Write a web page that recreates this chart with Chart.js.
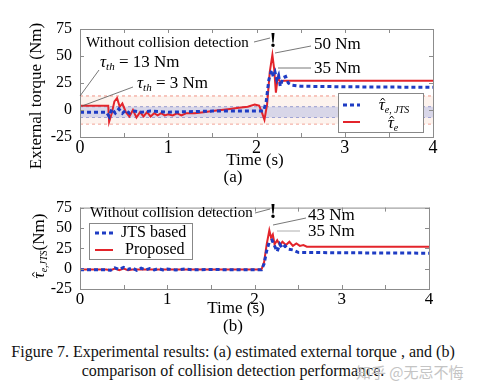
<!DOCTYPE html>
<html>
<head>
<meta charset="utf-8">
<script src="https://cdn.jsdelivr.net/npm/chart.js@4"></script>
<style>
  body { margin: 0; background: #fff; width: 482px; height: 392px; overflow: hidden; position: relative; font-family: 'Liberation Serif', serif; }
  #a { position: absolute; left: 0; top: 0; }
  #b { position: absolute; left: 0; top: 190px; }
  .cap { position: absolute; left: 0; width: 466px; text-align: center; font-size: 16px; line-height: 18px; color: #111; white-space: nowrap; }
  #wm { position: absolute; left: 356px; top: 361px; font-family: 'Noto Sans CJK SC'; font-size: 15px; color: #c4c4c4; }
</style>
</head>
<body>
<canvas id="a" width="482" height="190"></canvas>
<canvas id="b" width="482" height="150"></canvas>
<div class="cap" style="top:343px">Figure 7. Experimental results: (a) estimated external torque , and (b)</div>
<div class="cap" style="top:362px">comparison of collision detection performance.</div>
<div id="wm">知乎 @无忌不悔</div>
<script>
const timeTicks = [0, 1, 2, 3, 4];
const torqueTicks = [-25, 0, 25, 50, 75];

// (a) estimated external torque
const tA_red = [0, 0.32, 0.33, 0.36, 0.39, 0.42, 0.45, 0.48, 0.52, 0.56, 0.60, 0.64, 0.68, 0.72, 0.76, 0.80, 0.84, 0.88, 0.92, 0.96, 1.00, 1.05, 1.10, 1.15, 1.20, 1.30, 1.40, 1.50, 1.60, 1.70, 1.80, 1.90, 1.98, 2.03, 2.06, 2.09, 2.12, 2.15, 2.18, 2.20, 2.22, 2.24, 2.27, 2.30, 4.00];
const tauE   = [4, 4, -11, -3, 8, 11, 3, 6, -2, -6, 0, -7, -2, -6, -2, -6, -3, -5, -3, -5, -4, -5, -3, -5, -3, -3, -2, -1, 0, 1, 2, 3, 5, 4, -2, -9, 5, 35, 51, 38, 16, 30, 26, 27, 27];
const tA_blue = [0, 0.30, 0.33, 0.36, 0.40, 0.44, 0.48, 0.52, 0.56, 0.62, 0.70, 0.80, 1.00, 1.50, 2.00, 2.08, 2.11, 2.14, 2.17, 2.19, 2.21, 2.23, 2.25, 2.27, 2.30, 2.33, 2.36, 2.40, 2.50, 3.00, 4.00];
const tauJts  = [-2, -2, -6, 1, -3, 1, -3, 0, -3, -1, -2, -1, -2, -1, -1, -1, 8, 28, 37, 31, 35, 28, 32, 22, 30, 31, 25, 23, 22, 21.5, 21];
const bandWide = [13, -13];   // tau_th = 13 Nm
const bandNarrow = [3, -7];   // tau_th = 3 Nm

// (b) comparison of collision detection performance
const tB_red = [0, 0.30, 0.35, 0.40, 0.45, 0.50, 0.55, 0.60, 0.70, 1.00, 1.50, 2.08, 2.11, 2.14, 2.17, 2.19, 2.21, 2.23, 2.26, 2.29, 2.32, 2.36, 2.40, 2.44, 2.48, 2.52, 2.56, 2.60, 4.00];
const proposed = [-1, -1, -2, 0, -2, 0, -2, -1, -1, -1, -1, -1, 8, 30, 47, 38, 42, 30, 35, 29, 33, 29, 33, 28, 31, 28, 29, 27, 27];
const tB_blue = [0, 0.30, 0.35, 0.40, 0.45, 0.50, 0.55, 0.60, 0.65, 0.70, 0.75, 0.80, 0.85, 0.90, 0.95, 1.00, 1.10, 1.20, 1.30, 1.50, 1.80, 2.08, 2.11, 2.14, 2.17, 2.20, 2.23, 2.26, 2.29, 2.32, 2.35, 2.39, 2.44, 2.50, 3.00, 4.00];
const jtsBased = [-1.5, -1.5, -2, 1, -1, 1.5, -1, 1, -2, 0.5, -1.5, 0, -1.5, 0, -1.5, -0.5, -1.5, -0.5, -1.5, -1, -1.5, -1.5, 6, 22, 33, 35, 28, 21, 30, 25, 28, 24, 23, 20, 19.5, 19];

const SERIF = "'Liberation Serif', 'Times New Roman', serif";
Chart.defaults.font.family = SERIF;
Chart.defaults.color = '#000';

const RED = '#e3242b';
const BLUE = '#1e3cc4';

function pts(ts, vs) { return ts.map((t, i) => ({ x: t, y: vs[i] })); }
function flat(v) { return [{ x: 0, y: v }, { x: 4, y: v }]; }

function richWidth(ctx, segs) {
  let w = 0;
  for (const s of segs) { ctx.font = s.font; w += ctx.measureText(s.text).width; }
  return w;
}
function drawRich(ctx, segs, x, y, align) {
  const w = richWidth(ctx, segs);
  let cx = align === 'center' ? x - w / 2 : x;
  ctx.textAlign = 'left';
  ctx.textBaseline = 'middle';
  for (const s of segs) {
    ctx.font = s.font;
    ctx.fillText(s.text, cx, y + (s.dy || 0));
    const sw = ctx.measureText(s.text).width;
    if (s.hat) {
      const top = y - s.hat;
      ctx.beginPath();
      ctx.lineWidth = 1;
      ctx.strokeStyle = ctx.fillStyle;
      ctx.moveTo(cx + sw * 0.3, top + 2.5);
      ctx.lineTo(cx + sw * 0.65, top);
      ctx.lineTo(cx + sw * 1.0, top + 2.5);
      ctx.stroke();
    }
    cx += sw;
  }
}
function line(ctx, x1, y1, x2, y2, color, w) {
  ctx.beginPath();
  ctx.strokeStyle = color;
  ctx.lineWidth = w || 0.8;
  ctx.setLineDash([]);
  ctx.moveTo(x1, y1); ctx.lineTo(x2, y2);
  ctx.stroke();
}
function text(ctx, s, x, y, size, align, bold) {
  ctx.font = (bold ? 'bold ' : '') + size + 'px ' + SERIF;
  ctx.textAlign = align || 'left';
  ctx.textBaseline = 'middle';
  ctx.fillStyle = '#000';
  ctx.fillText(s, x, y);
}

// box around the plot with inward tick marks
const frame = {
  id: 'frame',
  afterDraw(chart) {
    const { ctx, chartArea: a, scales } = chart;
    ctx.save();
    ctx.strokeStyle = '#8c8c8c';
    ctx.lineWidth = 1;
    ctx.setLineDash([]);
    ctx.strokeRect(a.left + 0.5, a.top + 0.5, a.right - a.left, a.bottom - a.top);
    ctx.beginPath();
    for (let t = 0; t <= 4; t += 0.5) {
      const x = Math.round(scales.x.getPixelForValue(t)) + 0.5;
      ctx.moveTo(x, a.bottom); ctx.lineTo(x, a.bottom - 4);
      ctx.moveTo(x, a.top); ctx.lineTo(x, a.top + 4);
    }
    for (const v of torqueTicks) {
      const y = Math.round(scales.y.getPixelForValue(v)) + 0.5;
      ctx.moveTo(a.left, y); ctx.lineTo(a.left + 4, y);
      ctx.moveTo(a.right, y); ctx.lineTo(a.right - 4, y);
    }
    ctx.stroke();
    ctx.restore();
  }
};

function legendSample(ctx, x1, x2, y, ds) {
  ctx.beginPath();
  ctx.strokeStyle = ds.borderColor;
  ctx.lineWidth = ds.borderWidth;
  ctx.setLineDash(ds.borderDash || []);
  ctx.moveTo(x1, y); ctx.lineTo(x2, y);
  ctx.stroke();
  ctx.setLineDash([]);
}

const notesA = {
  id: 'notesA',
  afterDraw(chart) {
    const ctx = chart.ctx;
    ctx.save();
    ctx.fillStyle = '#000';
    text(ctx, 'Without collision detection', 86, 43, 15);
    line(ctx, 254, 42, 270, 38, '#555');
    text(ctx, '!', 273, 42, 21, 'center', true);
    text(ctx, '50 Nm', 314, 45, 17);
    line(ctx, 275, 53, 311, 46, '#555');
    text(ctx, '35 Nm', 314, 69, 17);
    line(ctx, 278, 68, 311, 68, '#555');
    const it = 'italic 17px ' + SERIF, sub = 'italic 11px ' + SERIF, rm = '17px ' + SERIF;
    drawRich(ctx, [{ text: 'τ', font: it }, { text: 'th', font: sub, dy: 4 }, { text: ' = 13 Nm', font: rm }], 100, 63);
    line(ctx, 80, 96, 99, 70, '#555');
    drawRich(ctx, [{ text: 'τ', font: it }, { text: 'th', font: sub, dy: 4 }, { text: ' = 3 Nm', font: rm }], 137, 84);
    line(ctx, 82, 106, 133, 87, '#555');

    // legend
    ctx.fillStyle = '#fff';
    ctx.fillRect(338, 93, 85, 39);
    ctx.strokeStyle = '#888';
    ctx.lineWidth = 1;
    ctx.strokeRect(338.5, 93.5, 85, 39);
    const ds = chart.data.datasets;
    legendSample(ctx, 343, 360, 105, ds[0]);
    legendSample(ctx, 343, 360, 122, ds[1]);
    ctx.fillStyle = '#000';
    drawRich(ctx, [{ text: 'τ', font: 'italic 17px ' + SERIF, hat: 8 }, { text: 'e, JTS', font: 'italic 10px ' + SERIF, dy: 4 }], 394, 106, 'center');
    drawRich(ctx, [{ text: 'τ', font: 'italic 17px ' + SERIF, hat: 8 }, { text: 'e', font: 'italic 10px ' + SERIF, dy: 4 }], 393, 124, 'center');

    // axis titles
    ctx.save();
    ctx.translate(37, 96);
    ctx.rotate(-Math.PI / 2);
    text(ctx, 'External torque (Nm)', 0, 0, 17, 'center');
    ctx.restore();
    text(ctx, 'Time (s)', 255, 161, 17, 'center');
    text(ctx, '(a)', 233, 178, 17, 'center');
    ctx.restore();
  }
};

const notesB = {
  id: 'notesB',
  afterDraw(chart) {
    const ctx = chart.ctx;
    ctx.save();
    ctx.fillStyle = '#000';
    text(ctx, 'Without collision detection', 90, 23, 15);
    line(ctx, 255, 23, 270, 19, '#555');
    text(ctx, '!', 273, 23, 21, 'center', true);
    text(ctx, '43 Nm', 308, 26, 17);
    line(ctx, 273, 35, 306, 28, '#555');
    text(ctx, '35 Nm', 308, 42, 17);
    line(ctx, 277, 41, 300, 41, '#999');

    // legend
    ctx.fillStyle = '#fff';
    ctx.fillRect(89, 33, 103, 36);
    ctx.strokeStyle = '#888';
    ctx.lineWidth = 1;
    ctx.strokeRect(89.5, 33.5, 103, 36);
    const ds = chart.data.datasets;
    legendSample(ctx, 95, 113, 43, ds[0]);
    legendSample(ctx, 95, 113, 60, ds[1]);
    text(ctx, 'JTS based', 121, 43, 16);
    text(ctx, 'Proposed', 125, 60, 16);

    // axis titles
    ctx.save();
    ctx.translate(40, 56);
    ctx.rotate(-Math.PI / 2);
    ctx.fillStyle = '#000';
    const segs = [{ text: 'τ', font: 'italic 17px ' + SERIF, hat: 8 }, { text: 'e,JTS', font: 'italic 10px ' + SERIF, dy: 4 }, { text: '(Nm)', font: '17px ' + SERIF }];
    drawRich(ctx, segs, 0, 0, 'center');
    ctx.restore();
    text(ctx, 'Time (s)', 236, 119, 17, 'center');
    text(ctx, '(b)', 233, 137, 17, 'center');
    ctx.restore();
  }
};

function scalesFor(xHeight, yWidth, xTickSize) {
  return {
    x: {
      type: 'linear', min: 0, max: 4,
      afterBuildTicks: s => { s.ticks = timeTicks.map(v => ({ value: v })); },
      afterFit: s => { s.height = xHeight; },
      grid: { display: false, drawTicks: false },
      border: { display: false },
      ticks: { font: { size: xTickSize }, padding: 0, color: '#000', maxRotation: 0, autoSkip: false }
    },
    y: {
      min: -25, max: 75,
      afterBuildTicks: s => { s.ticks = torqueTicks.map(v => ({ value: v })); },
      afterFit: s => { s.width = yWidth; },
      grid: { display: false, drawTicks: false },
      border: { display: false },
      ticks: { font: { size: 16 }, padding: 8, color: '#000', autoSkip: false }
    }
  };
}

new Chart(document.getElementById('a'), {
  type: 'line',
  data: {
    datasets: [
      { data: pts(tA_blue, tauJts), borderColor: BLUE, borderWidth: 3, borderDash: [4, 3], pointRadius: 0, fill: false, order: 1 },
      { data: pts(tA_red, tauE), borderColor: RED, borderWidth: 2, pointRadius: 0, fill: false, order: 2 },
      { data: flat(bandWide[0]), borderColor: '#ec7a6a', borderWidth: 0.8, borderDash: [3, 3], pointRadius: 0, fill: '+1', backgroundColor: 'rgba(250,225,212,0.4)', order: 6 },
      { data: flat(bandWide[1]), borderColor: '#ec7a6a', borderWidth: 0.8, borderDash: [3, 3], pointRadius: 0, fill: false, order: 6 },
      { data: flat(bandNarrow[0]), borderColor: '#8088c8', borderWidth: 0.8, borderDash: [3, 3], pointRadius: 0, fill: '+1', backgroundColor: 'rgba(180,186,228,0.5)', order: 5 },
      { data: flat(bandNarrow[1]), borderColor: '#8088c8', borderWidth: 0.8, borderDash: [3, 3], pointRadius: 0, fill: false, order: 5 }
    ]
  },
  options: {
    responsive: false,
    animation: false,
    layout: { padding: { top: 29, right: 49, left: 0, bottom: 0 } },
    plugins: { legend: { display: false }, tooltip: { enabled: false } },
    scales: scalesFor(53, 80, 18)
  },
  plugins: [frame, notesA]
});

new Chart(document.getElementById('b'), {
  type: 'line',
  data: {
    datasets: [
      { data: pts(tB_blue, jtsBased), borderColor: BLUE, borderWidth: 3, borderDash: [4, 3], pointRadius: 0, fill: false, order: 1 },
      { data: pts(tB_red, proposed), borderColor: RED, borderWidth: 2, pointRadius: 0, fill: false, order: 2 }
    ]
  },
  options: {
    responsive: false,
    animation: false,
    layout: { padding: { top: 10, right: 53, left: 0, bottom: 0 } },
    plugins: { legend: { display: false }, tooltip: { enabled: false } },
    scales: scalesFor(51, 80, 17)
  },
  plugins: [frame, notesB]
});
</script>
</body>
</html>
